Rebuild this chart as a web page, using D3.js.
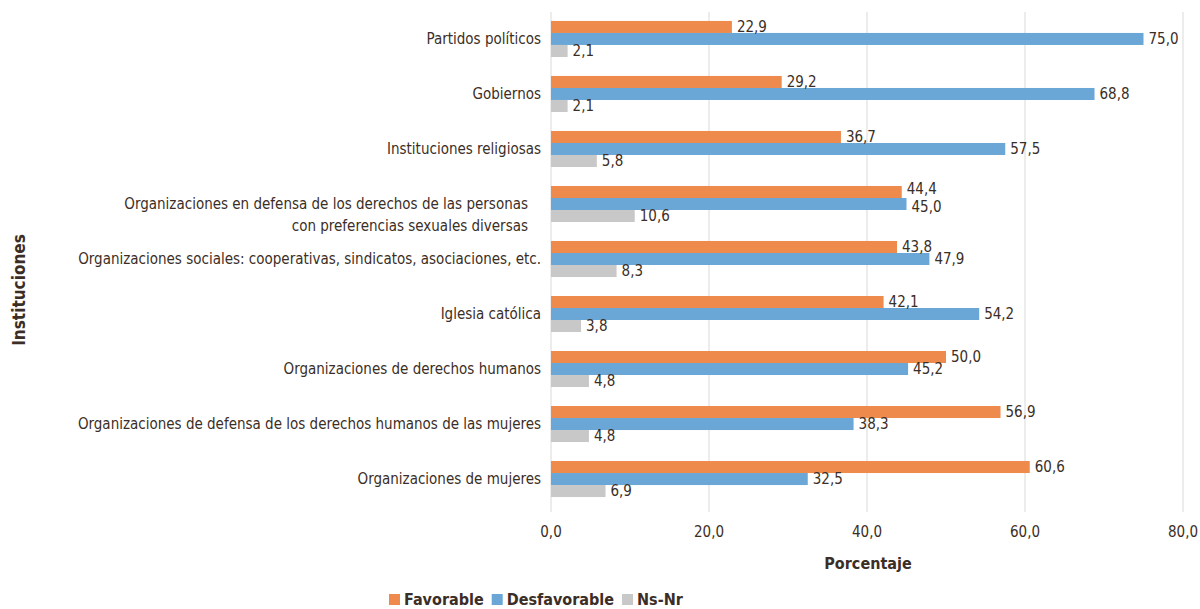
<!DOCTYPE html>
<html>
<head>
<meta charset="utf-8">
<script src="https://cdn.jsdelivr.net/npm/d3@7"></script>
<style>
  body { margin: 0; background: #fff; }
  text { font-family: "Liberation Sans Narrow", "DejaVu Sans Condensed", "Noto Sans", sans-serif; fill: #3b2e26; }
</style>
</head>
<body>
<div id="chart"></div>
<script>
// data
const categories = [
  "Partidos políticos",
  "Gobiernos",
  "Instituciones religiosas",
  "Organizaciones en defensa de los derechos de las personas\ncon preferencias sexuales diversas",
  "Organizaciones sociales: cooperativas, sindicatos, asociaciones, etc.",
  "Iglesia católica",
  "Organizaciones de derechos humanos",
  "Organizaciones de defensa de los derechos humanos de las mujeres",
  "Organizaciones de mujeres"
];
const favorable    = [22.9, 29.2, 36.7, 44.4, 43.8, 42.1, 50.0, 56.9, 60.6];
const desfavorable = [75.0, 68.8, 57.5, 45.0, 47.9, 54.2, 45.2, 38.3, 32.5];
const nsnr         = [2.1, 2.1, 5.8, 10.6, 8.3, 3.8, 4.8, 4.8, 6.9];
const seriesNames  = ["Favorable", "Desfavorable", "Ns-Nr"];
const xTicks       = [0, 20, 40, 60, 80];

const colors = ["#ee8a4b", "#6aa7d7", "#c8c8c8"];
const width = 1200, height = 609;
const seriesValues = [favorable, desfavorable, nsnr];

const fmt = v => d3.format(".1f")(v).replace(".", ",");

const svg = d3.select("#chart").append("svg")
    .attr("width", width)
    .attr("height", height);

const x = d3.scaleLinear().domain([0, 80]).range([551, 1183]);
const y = d3.scaleBand()
    .domain(categories)
    .range([11.6, 506.4])
    .paddingInner(0.345)
    .paddingOuter(0.17);
const ySub = d3.scaleBand()
    .domain(seriesNames)
    .range([0, y.bandwidth()]);

// gridlines
svg.append("g")
    .selectAll("line")
    .data(xTicks)
    .enter().append("line")
    .attr("x1", d => x(d)).attr("x2", d => x(d))
    .attr("y1", 12).attr("y2", 512)
    .attr("stroke", "#d9d9d9")
    .attr("stroke-width", 1);

// x tick labels
svg.append("g")
    .selectAll("text")
    .data(xTicks)
    .enter().append("text")
    .attr("x", d => x(d))
    .attr("y", 537)
    .attr("text-anchor", "middle")
    .attr("font-size", 15)
    .text(d => fmt(d));

// category labels
const catG = svg.append("g");
categories.forEach(function (c) {
    const lines = c.split("\n");
    const t = catG.append("text")
        .attr("text-anchor", "end")
        .attr("font-size", 15)
        .attr("y", y(c) + y.bandwidth() / 2 + 5);
    lines.forEach(function (l, i) {
        t.append("tspan")
            .attr("x", lines.length > 1 ? 528 : 541)
            .attr("dy", i === 0 ? 0 : 22)
            .text(l);
    });
});

// bars
const rows = [];
categories.forEach(function (c, i) {
    seriesNames.forEach(function (s, j) {
        // nudge labels apart when the favorable/desfavorable ends nearly coincide
        let shift = 0;
        if (j < 2 && Math.abs(favorable[i] - desfavorable[i]) < 4) shift = j === 0 ? -3 : 3;
        rows.push({ cat: c, series: s, value: seriesValues[j][i], color: colors[j], shift: shift });
    });
});

svg.append("g")
    .selectAll("rect")
    .data(rows)
    .enter().append("rect")
    .attr("x", x(0))
    .attr("y", d => y(d.cat) + ySub(d.series))
    .attr("width", d => x(d.value) - x(0))
    .attr("height", ySub.bandwidth())
    .attr("fill", d => d.color);

svg.append("g")
    .selectAll("text")
    .data(rows)
    .enter().append("text")
    .attr("x", d => x(d.value) + 5)
    .attr("y", d => y(d.cat) + ySub(d.series) + ySub.bandwidth() / 2 + 5 + d.shift)
    .attr("font-size", 15)
    .text(d => fmt(d.value));

// axis titles
svg.append("text")
    .attr("x", 868)
    .attr("y", 569)
    .attr("text-anchor", "middle")
    .attr("font-size", 16)
    .attr("font-weight", "bold")
    .text("Porcentaje");

svg.append("text")
    .attr("transform", "translate(25,290) rotate(-90)")
    .attr("text-anchor", "middle")
    .attr("font-size", 17)
    .attr("font-weight", "bold")
    .text("Instituciones");

// legend
const legend = svg.append("g").attr("transform", "translate(389,594)");
let lx = 0;
seriesNames.forEach(function (s, i) {
    const g = legend.append("g").attr("transform", "translate(" + lx + ",0)");
    g.append("rect").attr("width", 11).attr("height", 11).attr("fill", colors[i]);
    const t = g.append("text")
        .attr("x", 15).attr("y", 11)
        .attr("font-size", 16)
        .attr("font-weight", "bold")
        .text(s);
    lx += 15 + t.node().getComputedTextLength() + 8;
});
</script>
</body>
</html>
